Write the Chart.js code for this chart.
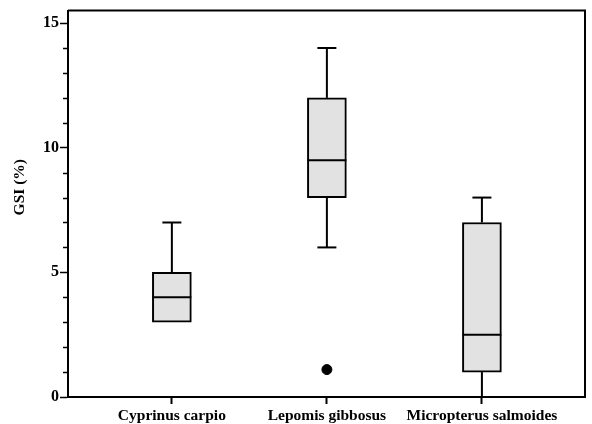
<!DOCTYPE html>
<html>
<head>
<meta charset="utf-8">
<script src="https://cdn.jsdelivr.net/npm/chart.js@4/dist/chart.umd.min.js"></script>
<style>
  html, body { margin: 0; padding: 0; background: #fff; }
  #wrap { width: 592px; height: 424px; }
</style>
</head>
<body>
<div id="wrap"><canvas id="c" width="592" height="424"></canvas></div>
<script>
// Gonadosomatic index (%) per species: five-number summaries
const species      = ['Cyprinus carpio', 'Lepomis gibbosus', 'Micropterus salmoides'];
const whiskerLow   = [3, 6, 0];
const quartile1    = [3, 8, 1];
const medians      = [4, 9.5, 2.5];
const quartile3    = [5, 12, 7];
const whiskerHigh  = [7, 14, 8];
// outlying observations: species index + value
const outlierGroup = [1];
const outlierValue = [1.1];
const yMajorTicks  = [0, 5, 10, 15];
const yMinorTicks  = [1, 2, 3, 4, 6, 7, 8, 9, 11, 12, 13, 14];
const yTitle       = 'GSI (%)';

const INK = '#000';
const SERIF = '"Liberation Serif", "Times New Roman", serif';

// whiskers, caps, medians, minor ticks, the closed frame and the value-axis title
const boxExtras = {
  id: 'boxExtras',
  afterDatasetsDraw(chart) {
    const { ctx, chartArea: a, scales: { x, y } } = chart;
    ctx.save();
    ctx.strokeStyle = INK;
    ctx.lineWidth = 2;
    ctx.lineCap = 'butt';
    const half = 19.5, cap = 9.5;
    const seg = (x0, y0, x1, y1) => { ctx.beginPath(); ctx.moveTo(x0, y0); ctx.lineTo(x1, y1); ctx.stroke(); };
    species.forEach((s, i) => {
      const cx = x.getPixelForValue(i + 1);
      if (whiskerHigh[i] > quartile3[i]) {
        seg(cx, y.getPixelForValue(quartile3[i]), cx, y.getPixelForValue(whiskerHigh[i]));
        const yy = y.getPixelForValue(whiskerHigh[i]);
        seg(cx - cap, yy, cx + cap, yy);
      }
      if (whiskerLow[i] < quartile1[i]) {
        seg(cx, y.getPixelForValue(quartile1[i]), cx, y.getPixelForValue(whiskerLow[i]));
        const yy = y.getPixelForValue(whiskerLow[i]);
        seg(cx - cap, yy, cx + cap, yy);
      }
      const ym = y.getPixelForValue(medians[i]);
      seg(cx - half, ym, cx + half, ym);
    });
    // minor ticks on the value axis
    ctx.lineWidth = 1.5;
    yMinorTicks.forEach(v => {
      const yy = Math.round(y.getPixelForValue(v)) + 0.5;
      seg(a.left - 5, yy, a.left, yy);
    });
    // top and right sides of the frame
    ctx.lineWidth = 2;
    ctx.beginPath();
    ctx.moveTo(a.left, a.top);
    ctx.lineTo(a.right, a.top);
    ctx.lineTo(a.right, a.bottom);
    ctx.stroke();
    // value-axis title, rotated
    ctx.translate(20, a.top + (a.bottom - a.top) * 0.457);
    ctx.rotate(-Math.PI / 2);
    ctx.fillStyle = INK;
    ctx.font = 'bold 15.5px ' + SERIF;
    ctx.textAlign = 'center';
    ctx.textBaseline = 'middle';
    ctx.fillText(yTitle, 0, 0);
    ctx.restore();
  }
};

new Chart(document.getElementById('c'), {
  type: 'bar',
  data: {
    datasets: [
      {
        type: 'bar',
        data: species.map((s, i) => ({ x: i + 1, y: [quartile1[i], quartile3[i]] })),
        backgroundColor: '#e2e2e2',
        borderColor: INK,
        borderWidth: 2,
        borderSkipped: false,
        barThickness: 39,
        order: 2
      },
      {
        type: 'scatter',
        data: outlierGroup.map((g, k) => ({ x: g + 1, y: outlierValue[k] })),
        backgroundColor: INK,
        borderColor: INK,
        pointRadius: 5,
        pointHoverRadius: 5,
        order: 1
      }
    ]
  },
  options: {
    responsive: false,
    animation: false,
    devicePixelRatio: 1,
    layout: { padding: { top: 10, right: 7, left: 0, bottom: 0 } },
    plugins: { legend: { display: false }, tooltip: { enabled: false } },
    scales: {
      x: {
        type: 'linear',
        offset: false,
        min: 0.33,
        max: 3.665,
        afterBuildTicks: (s) => { s.ticks = species.map((_, i) => ({ value: i + 1 })); },
        afterFit: (s) => { s.height = 27; },
        ticks: {
          callback: (v) => species[v - 1] ?? '',
          color: INK,
          padding: 3,
          maxRotation: 0,
          autoSkip: false,
          font: { family: SERIF, size: 15.5, weight: 'bold' }
        },
        grid: { offset: false, drawOnChartArea: false, tickLength: 7, tickColor: INK, tickWidth: 2 },
        border: { display: true, color: INK, width: 2 }
      },
      y: {
        type: 'linear',
        min: 0,
        max: 15.5,
        afterBuildTicks: (s) => { s.ticks = yMajorTicks.map(v => ({ value: v })); },
        afterFit: (s) => { s.width = 68; },
        ticks: {
          color: INK,
          padding: 1,
          font: { family: SERIF, size: 16, weight: 'bold' }
        },
        grid: { drawOnChartArea: false, tickLength: 8, tickColor: INK, tickWidth: 1.5 },
        border: { display: true, color: INK, width: 2 }
      }
    }
  },
  plugins: [boxExtras]
});
</script>
</body>
</html>
